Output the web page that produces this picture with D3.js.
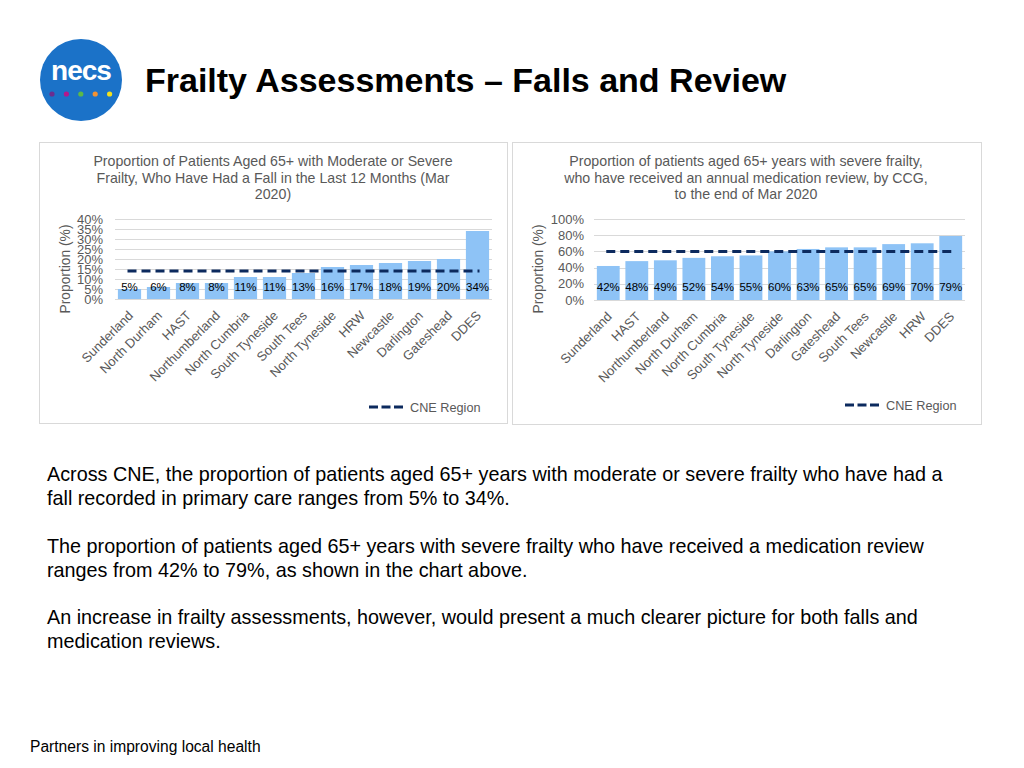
<!DOCTYPE html>
<html>
<head>
<meta charset="utf-8">
<script src="https://cdn.jsdelivr.net/npm/d3@7"></script>
<style>
  body { margin: 0; background: #fff; font-family: "Liberation Sans", Arial, sans-serif; }
  svg { display: block; }
</style>
</head>
<body>
<div id="page"></div>
<script>
// falls chart
const fallsCategories = ["Sunderland", "North Durham", "HAST", "Northumberland", "North Cumbria", "South Tyneside", "South Tees", "North Tyneside", "HRW", "Newcastle", "Darlington", "Gateshead", "DDES"]
const fallsValues = [5, 6, 8, 8, 11, 11, 13, 16, 17, 18, 19, 20, 34]
const fallsCNE = 14
const fallsTicks = [0, 5, 10, 15, 20, 25, 30, 35, 40]
const fallsTitle = ["Proportion of Patients Aged 65+ with Moderate or Severe", "Frailty, Who Have Had a Fall in the Last 12 Months (Mar", "2020)"]

// medication review chart
const reviewCategories = ["Sunderland", "HAST", "Northumberland", "North Durham", "North Cumbria", "South Tyneside", "North Tyneside", "Darlington", "Gateshead", "South Tees", "Newcastle", "HRW", "DDES"]
const reviewValues = [42, 48, 49, 52, 54, 55, 60, 63, 65, 65, 69, 70, 79]
const reviewCNE = 60
const reviewTicks = [0, 20, 40, 60, 80, 100]
const reviewTitle = ["Proportion of patients aged 65+ years with severe frailty,", "who have received an annual medication review, by CCG,", "to the end of Mar 2020"]

const paragraphs = [
  ["Across CNE, the proportion of patients aged 65+ years with moderate or severe frailty who have had a", "fall recorded in primary care ranges from 5% to 34%."],
  ["The proportion of patients aged 65+ years with severe frailty who have received a medication review", "ranges from 42% to 79%, as shown in the chart above."],
  ["An increase in frailty assessments, however, would present a much clearer picture for both falls and", "medication reviews."]
]

const W = 1024, H = 768
const grey = "#595959"
const barColor = "#8ec3f6"
const navy = "#0c2a5e"

const svg = d3.select("#page").append("svg")
  .attr("width", W)
  .attr("height", H)

// logo
const logo = svg.append("g").attr("transform", "translate(81,80)")
logo.append("circle").attr("r", 41).attr("fill", "#1b72c8")
logo.append("text")
  .attr("x", 0).attr("y", 0)
  .attr("text-anchor", "middle")
  .attr("fill", "#fff")
  .style("font-size", "28px")
  .style("font-weight", "bold")
  .style("letter-spacing", "-1px")
  .text("necs")
const dotColors = ["#6b2d90", "#b3188c", "#5cb947", "#f39232", "#f3e11c"]
logo.selectAll(".dot")
  .data(dotColors)
  .enter()
  .append("circle")
  .attr("cx", (d, i) => -29 + i * 14.4)
  .attr("cy", 14)
  .attr("r", 2.6)
  .attr("fill", d => d)

svg.append("text")
  .attr("x", 145).attr("y", 92)
  .style("font-size", "34px")
  .style("font-weight", "bold")
  .attr("fill", "#000")
  .text("Frailty Assessments \u2013 Falls and Review")

function drawChart(opts) {
  const box = opts.box
  svg.append("rect")
    .attr("x", box.x + 0.5).attr("y", box.y + 0.5)
    .attr("width", box.w).attr("height", box.h)
    .attr("fill", "#fff")
    .attr("stroke", "#d9d9d9")

  // title
  svg.append("g").selectAll("text")
    .data(opts.title)
    .enter()
    .append("text")
    .attr("x", opts.titleX)
    .attr("y", (d, i) => 166 + i * 16.5)
    .attr("text-anchor", "middle")
    .attr("fill", grey)
    .style("font-size", "14.2px")
    .text(d => d)

  const x = d3.scaleBand()
    .domain(opts.categories)
    .range([opts.plot.x0, opts.plot.x1])
    .paddingInner(0.2)
    .paddingOuter(0.1)

  const y = d3.scaleLinear()
    .domain([0, d3.max(opts.ticks)])
    .range([opts.plot.y0, opts.plot.y1])

  // grid
  svg.append("g").selectAll("line")
    .data(opts.ticks)
    .enter()
    .append("line")
    .attr("x1", opts.plot.x0).attr("x2", opts.plot.x1)
    .attr("y1", d => Math.round(y(d)) + 0.5)
    .attr("y2", d => Math.round(y(d)) + 0.5)
    .attr("stroke", "#d9d9d9")

  // y axis
  const yAxis = d3.axisLeft(y)
    .tickValues(opts.ticks)
    .tickFormat(d => d + "%")
    .tickSize(0)
    .tickPadding(0)
  const yg = svg.append("g")
    .attr("transform", "translate(" + opts.yLabelX + ",0)")
    .call(yAxis)
  yg.select(".domain").remove()
  yg.selectAll("text")
    .attr("fill", grey)
    .style("font-size", "13px")
    .style("font-family", "Liberation Sans, Arial, sans-serif")

  svg.append("text")
    .attr("transform", "translate(" + opts.yTitleX + ",269) rotate(-90)")
    .attr("text-anchor", "middle")
    .attr("fill", grey)
    .style("font-size", "13.8px")
    .text("Proportion (%)")

  // bars
  svg.append("g").selectAll("rect")
    .data(opts.values)
    .enter()
    .append("rect")
    .attr("x", (d, i) => x(opts.categories[i]))
    .attr("width", x.bandwidth())
    .attr("y", d => y(d))
    .attr("height", d => y(0) - y(d))
    .attr("fill", barColor)

  // data labels
  svg.append("g").selectAll("text")
    .data(opts.values)
    .enter()
    .append("text")
    .attr("x", (d, i) => x(opts.categories[i]) + x.bandwidth() / 2)
    .attr("y", 291)
    .attr("text-anchor", "middle")
    .attr("fill", "#000")
    .style("font-size", "11.5px")
    .text(d => d + "%")

  // CNE region line
  const first = opts.categories[0], last = opts.categories[opts.categories.length - 1]
  svg.append("line")
    .attr("x1", x(first) + x.bandwidth() / 2 - 2)
    .attr("x2", x(last) + x.bandwidth() / 2 + 2)
    .attr("y1", y(opts.cne)).attr("y2", y(opts.cne))
    .attr("stroke", navy)
    .attr("stroke-width", 3)
    .attr("stroke-dasharray", "9,5")

  // x labels
  const xAxis = d3.axisBottom(x).tickSize(0).tickPadding(0)
  const xg = svg.append("g")
    .attr("transform", "translate(0," + (opts.plot.y0 + 8) + ")")
    .call(xAxis)
  xg.select(".domain").remove()
  xg.selectAll("text")
    .attr("fill", grey)
    .style("font-size", "13px")
    .style("font-family", "Liberation Sans, Arial, sans-serif")
    .style("text-anchor", "end")
    .attr("dy", "0.7em")
    .attr("transform", "translate(-2,3) rotate(-45)")

  // legend
  svg.append("line")
    .attr("x1", opts.legend.x).attr("x2", opts.legend.x + 34)
    .attr("y1", opts.legend.y).attr("y2", opts.legend.y)
    .attr("stroke", navy)
    .attr("stroke-width", 3)
    .attr("stroke-dasharray", "9,3.5")
  svg.append("text")
    .attr("x", opts.legend.x + 41)
    .attr("y", opts.legend.y + 4.5)
    .attr("fill", grey)
    .style("font-size", "12.7px")
    .text("CNE Region")
}

drawChart({
  box: { x: 39, y: 142, w: 468, h: 281 },
  title: fallsTitle,
  titleX: 273,
  categories: fallsCategories,
  values: fallsValues,
  cne: fallsCNE,
  ticks: fallsTicks,
  plot: { x0: 115, x1: 492, y0: 299, y1: 219 },
  yLabelX: 103,
  yTitleX: 70,
  legend: { x: 369, y: 407 }
})

drawChart({
  box: { x: 512, y: 142, w: 469, h: 282 },
  title: reviewTitle,
  titleX: 746,
  categories: reviewCategories,
  values: reviewValues,
  cne: reviewCNE,
  ticks: reviewTicks,
  plot: { x0: 594, x1: 965, y0: 300, y1: 219 },
  yLabelX: 584,
  yTitleX: 543,
  legend: { x: 845, y: 405 }
})

// body text
paragraphs.forEach((lines, p) => {
  svg.append("g").selectAll("text")
    .data(lines)
    .enter()
    .append("text")
    .attr("x", 47)
    .attr("y", (d, i) => 481 + p * 71.5 + i * 24)
    .attr("fill", "#000")
    .style("font-size", "19.8px")
    .text(d => d)
})

svg.append("text")
  .attr("x", 30).attr("y", 752)
  .attr("fill", "#000")
  .style("font-size", "15.6px")
  .text("Partners in improving local health")
</script>
</body>
</html>
